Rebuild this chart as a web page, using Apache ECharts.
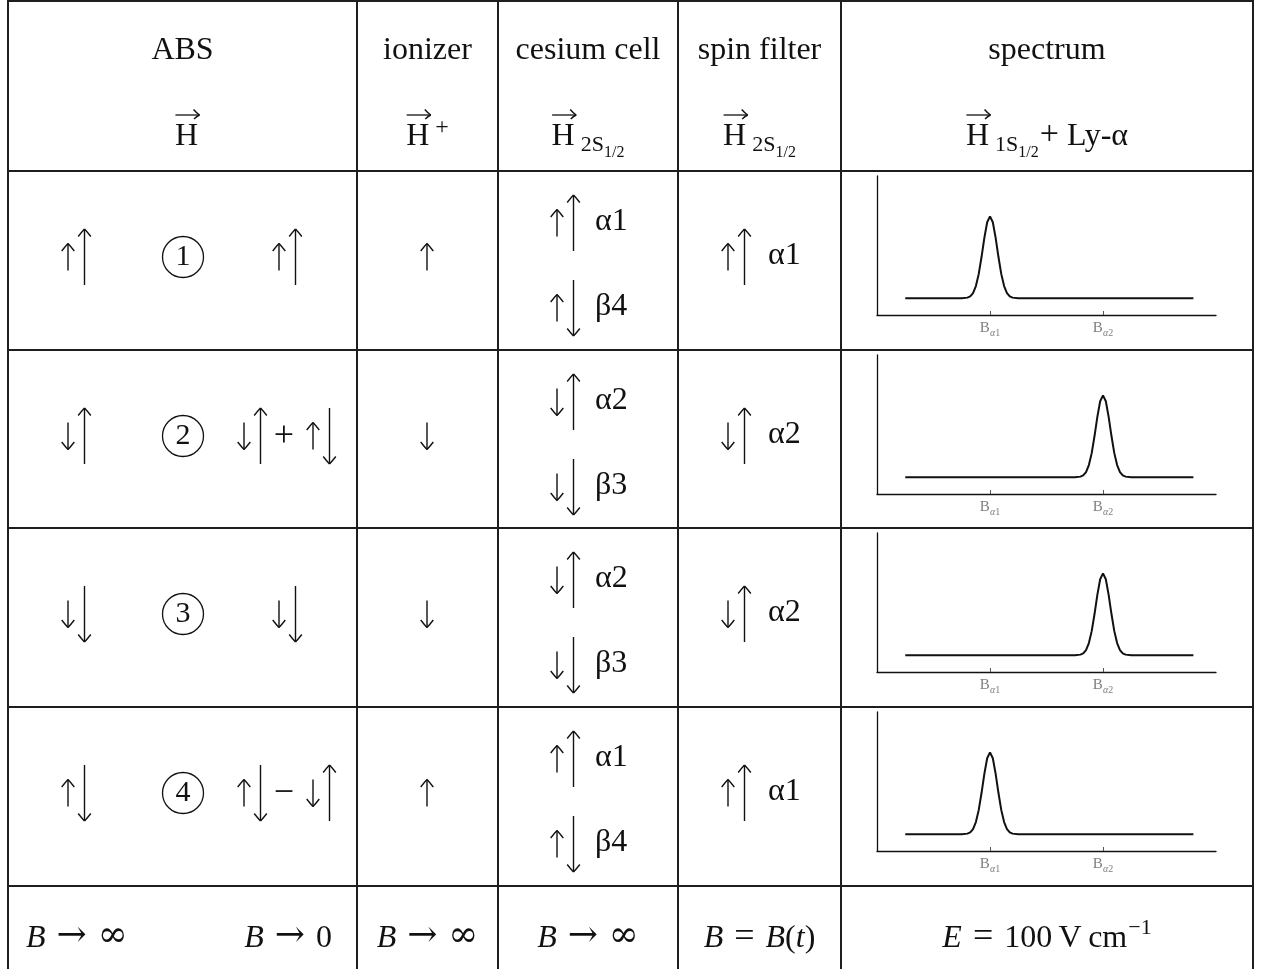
<!DOCTYPE html>
<html>
<head>
<meta charset="utf-8">
<script src="https://cdn.jsdelivr.net/npm/echarts@6/dist/echarts.min.js"></script>
<style>
  html, body { margin: 0; padding: 0; background: #ffffff; }
  #chart { width: 1270px; height: 969px; }
</style>
</head>
<body>
<div id="chart"></div>
<script>
// ---------- table content ----------
const columnTitles = ['ABS', 'ionizer', 'cesium cell', 'spin filter', 'spectrum'];
// beam state under each title: H with arrow, then subscript / sub-subscript / superscript / suffix
const stateSub = ['', '', '2S', '2S', '1S'];
const stateSubSub = ['', '', '1/2', '1/2', '1/2'];
const stateSup = ['', '+', '', '', ''];
const stateSuffix = ['', '', '', '', 'Ly-\u03b1'];

const stateNumbers = ['1', '2', '3', '4'];
// spin pairs: first letter = electron (short arrow), second = proton (long arrow); u = up, d = down
const absInitial = ['uu', 'du', 'dd', 'ud'];
const absFinal = [['uu'], ['du', '+', 'ud'], ['dd'], ['ud', '\u2212', 'du']];
const ionizerSpin = ['u', 'd', 'd', 'u'];
const cesiumUpperPairs = ['uu', 'du', 'du', 'uu'];
const cesiumUpperLabels = ['\u03b11', '\u03b12', '\u03b12', '\u03b11'];
const cesiumLowerPairs = ['ud', 'dd', 'dd', 'ud'];
const cesiumLowerLabels = ['\u03b24', '\u03b23', '\u03b23', '\u03b24'];
const spinFilterPairs = ['uu', 'du', 'du', 'uu'];
const spinFilterLabels = ['\u03b11', '\u03b12', '\u03b12', '\u03b11'];

// field conditions in the last row (^ starts a superscript)
const fieldConditions = ['B \u2192 \u221e', 'B \u2192 0', 'B \u2192 \u221e', 'B \u2192 \u221e', 'B = B(t)', 'E = 100\u2009V\u2009cm^\u22121'];

// ---------- Lyman-alpha spectra (x in units of the resonance positions, y relative) ----------
const spectrumTicks = [1, 2];
const spectrumTickNames = ['1', '2'];
const spectrumAlpha1 = [
  [0.25, 0.12], [0.75, 0.12], [0.80, 0.125], [0.825, 0.134], [0.85, 0.158], [0.875, 0.208],
  [0.90, 0.294], [0.925, 0.417], [0.95, 0.555], [0.975, 0.667], [1.00, 0.71], [1.025, 0.667],
  [1.05, 0.555], [1.075, 0.417], [1.10, 0.294], [1.125, 0.208], [1.15, 0.158], [1.175, 0.134],
  [1.20, 0.125], [1.25, 0.12], [2.80, 0.12]
];
const spectrumAlpha2 = [
  [0.25, 0.12], [1.75, 0.12], [1.80, 0.125], [1.825, 0.134], [1.85, 0.158], [1.875, 0.208],
  [1.90, 0.294], [1.925, 0.417], [1.95, 0.555], [1.975, 0.667], [2.00, 0.71], [2.025, 0.667],
  [2.05, 0.555], [2.075, 0.417], [2.10, 0.294], [2.125, 0.208], [2.15, 0.158], [2.175, 0.134],
  [2.20, 0.125], [2.25, 0.12], [2.80, 0.12]
];
const spectrumByState = [spectrumAlpha1, spectrumAlpha2, spectrumAlpha2, spectrumAlpha1];

// ---------- layout ----------
const COL_X = [8, 357, 498, 678, 841, 1253];
const ROW_Y = [1, 171, 350, 528, 707, 886];
const BOTTOM = 969;
const INK = '#111111';
const RULE = '#1e1e1e';
const SERIF = '"Liberation Serif", "DejaVu Serif", serif';
const SYMBOL = '"DejaVu Serif", "Liberation Serif", serif';
const SYMBOL_CHARS = '\u2192\u221e';
const MAIN = 32, SUB = 22, SUBSUB = 16;
const ARROW_W = 1.4;

const measureCtx = document.createElement('canvas').getContext('2d');
function fontOf(p) { return (p.italic ? 'italic ' : '') + p.size + 'px ' + (p.sym ? SYMBOL : SERIF); }

// lays out a run of text pieces on a common baseline
function run(x, baseline, pieces, anchor, color) {
  const ws = pieces.map(p => { measureCtx.font = fontOf(p); return measureCtx.measureText(p.t).width; });
  let total = 0;
  pieces.forEach((p, i) => { total += (p.gap || 0) + ws[i]; });
  let cx = anchor === 'left' ? x : anchor === 'right' ? x - total : x - total / 2;
  const els = [], xs = [];
  pieces.forEach((p, i) => {
    cx += p.gap || 0;
    xs.push(cx);
    els.push({
      type: 'text', x: cx, y: baseline + (p.dy || 0) - 0.34 * p.size, silent: true,
      style: { text: p.t, font: fontOf(p), fill: color || INK, textAlign: 'left', textVerticalAlign: 'middle', align: 'left', verticalAlign: 'middle' }
    });
    cx += ws[i];
  });
  return { els, xs, ws };
}

function barb(x1, y1, x2, y2, cx, cy) {
  return { type: 'bezierCurve', silent: true, shape: { x1, y1, x2, y2, cpx1: cx, cpy1: cy },
    style: { stroke: INK, lineWidth: ARROW_W, fill: 'none' } };
}

// vertical arrow centred on yc
function vArrow(x, yc, len, dir) {
  const tipY = dir === 'u' ? yc - len / 2 : yc + len / 2;
  const tailY = dir === 'u' ? yc + len / 2 : yc - len / 2;
  const s = dir === 'u' ? 1 : -1;
  const HW = 6.3, HL = 7.5;
  return [
    { type: 'line', silent: true, shape: { x1: x, y1: tailY, x2: x, y2: tipY }, style: { stroke: INK, lineWidth: ARROW_W } },
    barb(x, tipY, x - HW, tipY + s * HL, x - HW * 0.4, tipY + s * HL * 0.35),
    barb(x, tipY, x + HW, tipY + s * HL, x + HW * 0.4, tipY + s * HL * 0.35)
  ];
}

// electron (short) + proton (long) arrows
function spinPair(xShort, yc, code) {
  return vArrow(xShort, yc, 27, code[0]).concat(vArrow(xShort + 16.5, yc, 56, code[1]));
}

// arrow accent over a letter
function vecArrow(x1, x2, y) {
  return [
    { type: 'line', silent: true, shape: { x1, y1: y, x2, y2: y }, style: { stroke: INK, lineWidth: 1.3 } },
    barb(x2, y, x2 - 6, y - 5.5, x2 - 2.5, y - 1.5),
    barb(x2, y, x2 - 5.5, y + 4, x2 - 2.5, y + 1)
  ];
}

// splits a formula into upright / italic / symbol pieces; relations get extra room
function fieldPieces(str) {
  const [mainPart, supPart] = str.split('^');
  const pieces = [];
  for (const ch of mainPart) {
    const italic = 'BEt'.includes(ch);
    const sym = SYMBOL_CHARS.includes(ch);
    const rel = ch === '=' || ch === '\u2192';
    const last = pieces[pieces.length - 1];
    if (last && last.italic === italic && !last.sym && !sym && !last.rel && !rel) last.t += ch;
    else pieces.push({ t: ch, size: sym ? 36 : (ch === '=' ? 36 : MAIN), dy: ch === '=' ? 1 : 0, italic, sym, rel, gap: rel ? 3 : 0 });
    if (rel) pieces.push({ t: '', size: MAIN, gap: 3 });
  }
  if (supPart) pieces.push({ t: supPart, size: SUB, dy: -13, gap: 1 });
  return pieces;
}

const colCenter = i => (COL_X[i] + COL_X[i + 1]) / 2;
let graphics = [];

// rules of the table
ROW_Y.forEach(y => graphics.push({ type: 'line', silent: true, shape: { x1: COL_X[0] - 1, y1: y, x2: COL_X[5] + 1, y2: y }, style: { stroke: RULE, lineWidth: 2 } }));
COL_X.forEach(x => graphics.push({ type: 'line', silent: true, shape: { x1: x, y1: 0, x2: x, y2: BOTTOM }, style: { stroke: RULE, lineWidth: 2 } }));

// header
columnTitles.forEach((t, i) => {
  graphics = graphics.concat(run(colCenter(i), 61, [{ t, size: MAIN }], 'center').els);
  const pieces = [{ t: 'H', size: MAIN }];
  if (stateSup[i]) pieces.push({ t: stateSup[i], size: 24, dy: -11, gap: 6 });
  if (stateSub[i]) pieces.push({ t: stateSub[i], size: SUB, dy: 6, gap: 6 });
  if (stateSubSub[i]) pieces.push({ t: stateSubSub[i], size: SUBSUB, dy: 11 });
  if (stateSuffix[i]) {
    pieces.push({ t: '+', size: 34, gap: 1 });
    pieces.push({ t: stateSuffix[i], size: MAIN, gap: 8 });
  }
  const r = run(colCenter(i) + (i === 0 ? 4 : 0), 147, pieces, 'center');
  graphics = graphics.concat(r.els, vecArrow(r.xs[0] + 0.5, r.xs[0] + r.ws[0] + 1.5, 115));
});

// state rows
const FINAL_CENTER = 287;
for (let k = 0; k < 4; k++) {
  const top = ROW_Y[k + 1];
  const yc = top + 86;
  graphics = graphics.concat(spinPair(68, yc, absInitial[k]));
  graphics.push({ type: 'circle', silent: true, shape: { cx: 183, cy: yc, r: 20.5 }, style: { stroke: INK, lineWidth: 1.3, fill: 'none' } });
  graphics = graphics.concat(run(183, yc + 10.5, [{ t: stateNumbers[k], size: 30 }], 'center').els);
  const fin = absFinal[k];
  if (fin.length === 1) {
    graphics = graphics.concat(spinPair(FINAL_CENTER - 8, yc, fin[0]));
  } else {
    graphics = graphics.concat(spinPair(FINAL_CENTER - 43, yc, fin[0]));
    graphics = graphics.concat(run(FINAL_CENTER - 3, yc + 13, [{ t: fin[1], size: 36 }], 'center').els);
    graphics = graphics.concat(spinPair(FINAL_CENTER + 26, yc, fin[2]));
  }
  graphics = graphics.concat(vArrow(427, yc, 27, ionizerSpin[k]));
  const yUp = top + 52, yLo = top + 137;
  graphics = graphics.concat(spinPair(557, yUp, cesiumUpperPairs[k]));
  graphics = graphics.concat(run(595, yUp + 9, [{ t: cesiumUpperLabels[k], size: MAIN }], 'left').els);
  graphics = graphics.concat(spinPair(557, yLo, cesiumLowerPairs[k]));
  graphics = graphics.concat(run(595, yLo + 9, [{ t: cesiumLowerLabels[k], size: MAIN }], 'left').els);
  graphics = graphics.concat(spinPair(728, yc, spinFilterPairs[k]));
  graphics = graphics.concat(run(768, yc + 9, [{ t: spinFilterLabels[k], size: MAIN }], 'left').els);
}

// field conditions
const fieldAnchors = [[26, 'left'], [332, 'right'], [colCenter(1), 'center'], [colCenter(2), 'center'], [colCenter(3), 'center'], [colCenter(4), 'center']];
fieldConditions.forEach((s, i) => {
  graphics = graphics.concat(run(fieldAnchors[i][0], 949, fieldPieces(s), fieldAnchors[i][1]).els);
});

// spectra
const grids = [], xAxes = [], yAxes = [], series = [];
for (let k = 0; k < 4; k++) {
  grids.push({ left: 877, top: ROW_Y[k + 1] + 5, width: 339, height: 139, containLabel: false, outerBoundsMode: 'none' });
  xAxes.push({
    gridIndex: k, type: 'value', min: 0, max: 3,
    axisLine: { show: true, onZero: false, lineStyle: { color: INK, width: 1.3 } },
    axisTick: { show: true, inside: true, length: 4, customValues: spectrumTicks, lineStyle: { color: '#555', width: 1 } },
    axisLabel: {
      show: true, customValues: spectrumTicks, margin: 4, color: '#808080',
      formatter: v => {
        const i = spectrumTicks.indexOf(v);
        return i < 0 ? '' : '{b|B}{a|\u03b1}{s|' + spectrumTickNames[i] + '}';
      },
      rich: {
        b: { fontFamily: SERIF, fontSize: 15, color: '#808080' },
        a: { fontFamily: SERIF, fontSize: 10, fontStyle: 'italic', color: '#808080', padding: [9, 0, 0, 0] },
        s: { fontFamily: SERIF, fontSize: 10, color: '#808080', padding: [9, 0, 0, 0] }
      }
    },
    splitLine: { show: false }
  });
  yAxes.push({
    gridIndex: k, type: 'value', min: 0, max: 1,
    axisLine: { show: true, onZero: false, lineStyle: { color: INK, width: 1.3 } },
    axisTick: { show: false }, axisLabel: { show: false }, splitLine: { show: false }
  });
  series.push({
    type: 'line', xAxisIndex: k, yAxisIndex: k, data: spectrumByState[k],
    symbol: 'none', showSymbol: false, silent: true,
    lineStyle: { color: INK, width: 2 }
  });
}

const chart = echarts.init(document.getElementById('chart'), null, { renderer: 'canvas' });
chart.setOption({
  backgroundColor: '#ffffff',
  animation: false,
  grid: grids,
  xAxis: xAxes,
  yAxis: yAxes,
  series: series,
  graphic: { elements: graphics }
});
</script>
</body>
</html>
